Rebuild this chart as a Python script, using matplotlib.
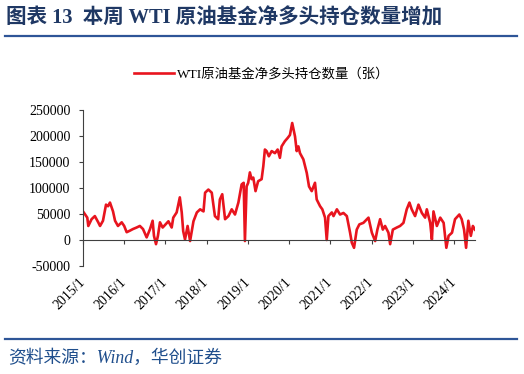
import numpy as np
import matplotlib
matplotlib.use("Agg")
import matplotlib.pyplot as plt
import matplotlib.dates as mdates

plt.rcParams['font.family'] = ['Liberation Serif', 'Noto Sans CJK SC', 'DejaVu Sans']

# 数据
dates = [
    "2015-01-01", "2015-02-08", "2015-02-17", "2015-03-18", "2015-04-16", "2015-05-16",
    "2015-06-01", "2015-06-27", "2015-07-24", "2015-08-11", "2015-08-28", "2015-09-24",
    "2015-10-12", "2015-11-07", "2015-12-10", "2016-01-01", "2016-01-23", "2016-02-21",
    "2016-03-18", "2016-04-20", "2016-05-19", "2016-06-16", "2016-07-18", "2016-08-17",
    "2016-09-09", "2016-09-21", "2016-10-09", "2016-10-26", "2016-11-13", "2016-12-07",
    "2017-01-01", "2017-01-27", "2017-02-25", "2017-03-11", "2017-04-10", "2017-05-08",
    "2017-05-25", "2017-06-07", "2017-06-23", "2017-07-16", "2017-08-07", "2017-09-06",
    "2017-10-06", "2017-11-04", "2017-12-04", "2017-12-18", "2018-01-16", "2018-02-15",
    "2018-03-15", "2018-04-13", "2018-04-28", "2018-05-19", "2018-06-13", "2018-07-13",
    "2018-08-11", "2018-09-09", "2018-10-09", "2018-11-07", "2018-11-25", "2018-12-06",
    "2018-12-21", "2019-01-04", "2019-01-19", "2019-02-03", "2019-02-18", "2019-03-10",
    "2019-04-02", "2019-05-03", "2019-05-18", "2019-06-01", "2019-06-16", "2019-07-06",
    "2019-07-31", "2019-08-29", "2019-09-22", "2019-10-12", "2019-10-27", "2019-11-25",
    "2019-12-19", "2020-01-09", "2020-01-29", "2020-02-23", "2020-03-09", "2020-03-24",
    "2020-04-07", "2020-05-07", "2020-06-06", "2020-06-26", "2020-07-20", "2020-08-18",
    "2020-09-02", "2020-10-02", "2020-10-22", "2020-11-15", "2020-11-30", "2020-12-15",
    "2021-01-14", "2021-01-29", "2021-02-28", "2021-03-28", "2021-04-27", "2021-05-27",
    "2021-06-25", "2021-07-10", "2021-07-30", "2021-08-23", "2021-09-15", "2021-10-21",
    "2021-12-05", "2022-01-04", "2022-02-02", "2022-02-22", "2022-03-18", "2022-04-11",
    "2022-05-01", "2022-05-31", "2022-06-15", "2022-07-09", "2022-08-13", "2022-09-11",
    "2022-10-11", "2022-11-09", "2022-12-03", "2022-12-23", "2023-01-22", "2023-02-21",
    "2023-03-23", "2023-04-21", "2023-05-06", "2023-06-05", "2023-06-20", "2023-07-04",
    "2023-08-03", "2023-09-02", "2023-10-02", "2023-10-26", "2023-11-15", "2023-12-15",
    "2024-01-11", "2024-02-18", "2024-03-10", "2024-03-31", "2024-04-18", "2024-05-08",
    "2024-05-30", "2024-06-17", "2024-07-06",
]
net_long = [
    55000, 43000, 27000, 40000, 46000, 34000,
    27000, 37000, 68000, 65000, 72000, 55000,
    37000, 27000, 34000, 27000, 15000, 18000,
    21000, 24000, 27000, 21000, 5000, 21000,
    37000, 8000, -8000, 8000, 34000, 24000,
    30000, 36000, 24000, 43000, 53000, 82000,
    53000, 17000, 1000, 27000, -2000, 36000,
    53000, 59000, 55000, 91000, 97000, 91000,
    46000, 40000, 78000, 88000, 40000, 46000,
    59000, 49000, 72000, 107000, 110000, -2000,
    103000, 110000, 130000, 117000, 120000, 94000,
    113000, 117000, 142000, 174000, 171000, 161000,
    171000, 167000, 174000, 158000, 180000, 190000,
    196000, 202000, 225000, 199000, 171000, 180000,
    167000, 155000, 129000, 103000, 94000, 110000,
    78000, 65000, 59000, 43000, 0, 46000,
    53000, 46000, 59000, 49000, 52000, 46000,
    14000, -5000, -15000, 20000, 30000, 33000,
    43000, 14000, -2000, 20000, 40000, 20000,
    27000, 14000, -8000, 20000, 24000, 27000,
    33000, 59000, 72000, 59000, 46000, 68000,
    52000, 43000, 59000, 33000, 1000, 55000,
    27000, 43000, 33000, -15000, 8000, 14000,
    40000, 49000, 40000, 20000, -15000, 37000,
    8000, 27000, 20000,
]
years = list(range(2015, 2025))
tick_labels = [f"{y}/1" for y in years]
y_ticks = [-50000, 0, 50000, 100000, 150000, 200000, 250000]

series_name = "WTI原油基金净多头持仓数量（张）"
title = "图表 13  本周 WTI 原油基金净多头持仓数量增加"
source = "资料来源：Wind，华创证券"

x = mdates.date2num(np.array(dates, dtype="datetime64[D]"))
tick_pos = mdates.date2num(np.array([f"{y}-01-01" for y in years], dtype="datetime64[D]"))

fig = plt.figure(figsize=(5.24, 3.74), dpi=100)
W, H = 524, 374
ax = fig.add_axes([83 / W, 1 - 266 / H, (475 - 83) / W, (266 - 110) / H])

line, = ax.plot(x, net_long, color="#E8141E", lw=1.9, solid_joinstyle="round")

ax.set_ylim(-50000, 250000)
ax.set_xlim(x[0], x[-1])
ax.set_yticks(y_ticks)
ax.set_yticklabels([str(v) for v in y_ticks])
ax.set_xticks(tick_pos)
ax.set_xticklabels(tick_labels)

for s in ["top", "right"]:
    ax.spines[s].set_visible(False)
ax.spines["bottom"].set_position(("data", 0))
ax.spines["left"].set_color("#404040")
ax.spines["bottom"].set_color("#404040")
ax.tick_params(axis="y", direction="out", length=3, color="#404040",
               labelsize=10, pad=6)
ax.tick_params(axis="x", direction="out", length=3, color="#404040",
               labelsize=10, pad=26, labelrotation=45)
fig.canvas.draw()
for lab in ax.get_xticklabels():
    lab.set_ha("right")
    lab.set_va("center")
    lab.set_rotation_mode("anchor")

# 图例
fig.legend([line], [series_name], loc="center", bbox_to_anchor=(0.5, 1 - 74 / H),
           frameon=False, handlelength=3.0, handletextpad=0.2,
           prop={"family": ["Liberation Serif", "Noto Sans CJK SC"], "size": 9.6})

# 标题与来源
fig.text(6 / W, 1 - 18 / H, title, fontsize=14.8, fontweight="bold",
         color="#1F3864", va="center", ha="left")
fig.add_artist(plt.Line2D([5 / W, 517 / W], [1 - 36 / H] * 2, color="#2E5597", lw=1.6))
fig.add_artist(plt.Line2D([5 / W, 517 / W], [1 - 339 / H] * 2, color="#2E5597", lw=1.6))
fig.text(8 / W, 1 - 358 / H, source, fontsize=12.8, color="#1F4E8C",
         style="italic", va="center", ha="left")

fig.savefig("out.png", dpi=100)
